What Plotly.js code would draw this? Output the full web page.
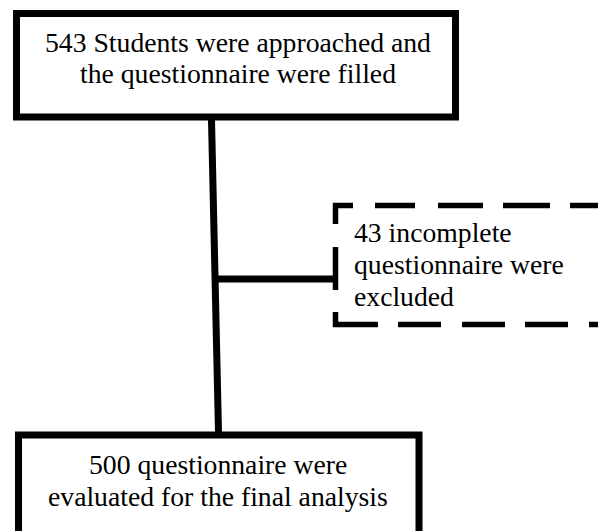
<!DOCTYPE html>
<html>
<head>
<meta charset="utf-8">
<script src="https://cdn.plot.ly/plotly-3.0.1.min.js"></script>
<style>html,body{margin:0;padding:0;background:#fff;}#chart{width:598px;height:531px;}</style>
</head>
<body>
<div id="chart"></div>
<script>
// ---- content ----
const topBoxLines = ["543 Students were approached and", "the questionnaire were filled"];
const excludedLines = ["43 incomplete", "questionnaire were", "excluded"];
const finalLines = ["500 questionnaire were", "evaluated for the final analysis"];

// ---- layout helpers ----
const FONT = {family: "Liberation Serif, Times New Roman, serif", size: 27.7, color: "#000"};
const ink = "#000";

function lineAnnots(lines, x, firstY, step, align) {
  return lines.map((t, i) => ({
    xref: "x", yref: "y", x: x, y: firstY + i * step,
    text: t, showarrow: false, font: FONT,
    xanchor: align, yanchor: "middle", align: align
  }));
}

const shapes = [
  // top box
  {type: "rect", xref: "x", yref: "y", x0: 16.5, x1: 455.5, y0: 13.5, y1: 117, line: {color: ink, width: 7}},
  // bottom box
  {type: "rect", xref: "x", yref: "y", x0: 18.5, x1: 419, y0: 435, y1: 570, line: {color: ink, width: 7}},
  // vertical connector
  {type: "line", xref: "x", yref: "y", x0: 211.5, y0: 120, x1: 218.5, y1: 432, line: {color: ink, width: 7}},
  // horizontal branch
  {type: "line", xref: "x", yref: "y", x0: 214, y0: 279, x1: 336, y1: 279, line: {color: ink, width: 7}},
  // dashed box: top edge with corner
  {type: "path", xref: "x", yref: "y", path: "M 335.5,224 V 205.5 H 640",
   line: {color: ink, width: 5.5, dash: "36px,22px,40px,23px,45px,20px,47px,20px,45px,20px"}},
  // dashed box: left middle segment
  {type: "line", xref: "x", yref: "y", x0: 335.5, y0: 247, x1: 335.5, y1: 290, line: {color: ink, width: 5.5}},
  // dashed box: bottom edge with corner
  {type: "path", xref: "x", yref: "y", path: "M 335.5,312 V 324.5 H 640",
   line: {color: ink, width: 5.5, dash: "55px,20px,43px,21px,43px,20px,43px,21px,43px,20px"}}
];

const annotations = []
  .concat(lineAnnots(topBoxLines, 238, 42, 31, "center"))
  .concat(lineAnnots(excludedLines, 352, 232, 32, "left"))
  .concat(lineAnnots(finalLines, 218, 464, 32, "center"));

const layout = {
  width: 598, height: 531,
  margin: {l: 0, r: 0, t: 0, b: 0},
  paper_bgcolor: "#fff", plot_bgcolor: "#fff",
  showlegend: false,
  xaxis: {range: [0, 598], visible: false, fixedrange: true},
  yaxis: {range: [531, 0], visible: false, fixedrange: true},
  shapes: shapes,
  annotations: annotations
};

Plotly.newPlot("chart", [{type: "scatter", x: [], y: [], mode: "markers", hoverinfo: "skip"}], layout, {staticPlot: true, displayModeBar: false});
</script>
</body>
</html>
